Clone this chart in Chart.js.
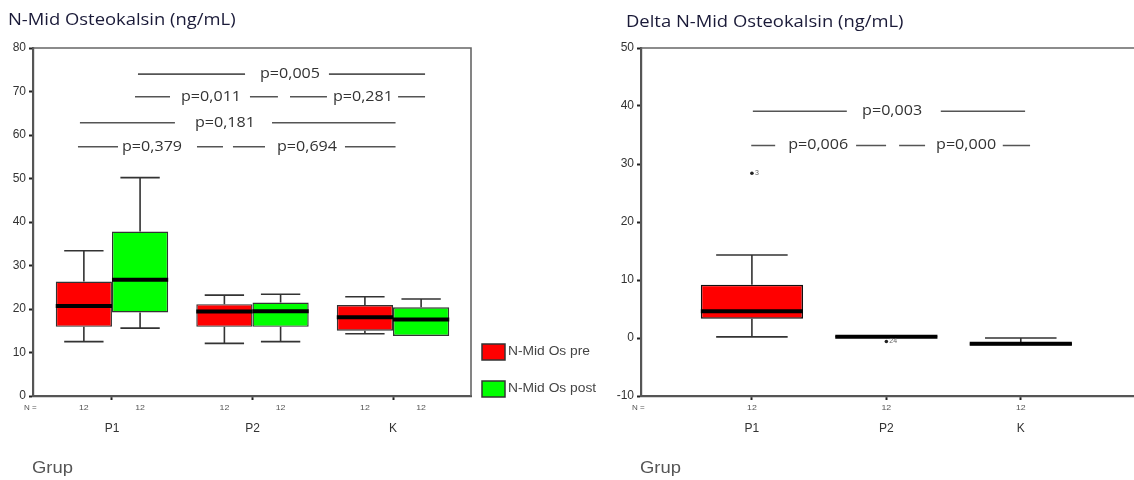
<!DOCTYPE html>
<html><head><meta charset="utf-8">
<script src="https://cdn.jsdelivr.net/npm/chart.js@4.4.0/dist/chart.umd.min.js"></script>
<style>
html,body{margin:0;padding:0;background:#fff;overflow:hidden;width:1134px;height:480px;}
#c1{position:absolute;left:0;top:0;}
#c2{position:absolute;left:600px;top:0;}
</style></head><body>
<canvas id="c1" width="620" height="480"></canvas>
<canvas id="c2" width="545" height="480"></canvas>
<script>
// ---------- data ----------
const groups = ['P1', 'P2', 'K'];
const nPerBox = [12, 12, 12];
const leftTitle = 'N-Mid Osteokalsin (ng/mL)';
const rightTitle = 'Delta N-Mid Osteokalsin (ng/mL)';
const xTitle = 'Grup';
const preLabel = 'N-Mid Os pre';
const postLabel = 'N-Mid Os post';

const preMin = [12.5, 12.1, 14.3];
const preQ1  = [15.9, 15.9, 15.0];
const preMed = [20.7, 19.4, 18.1];
const preQ3  = [26.3, 21.1, 20.9];
const preMax = [33.4, 23.2, 22.8];

const postMin = [15.6, 12.5, 13.8];
const postQ1  = [19.2, 15.9, 13.8];
const postMed = [26.7, 19.5, 17.6];
const postQ3  = [37.8, 21.5, 20.4];
const postMax = [50.2, 23.4, 22.3];

const deltaMin = [0.2, 0.1, -1.3];
const deltaQ1  = [3.3, 0.1, -1.3];
const deltaMed = [4.6, 0.2, -1.0];
const deltaQ3  = [9.2, 0.4, -0.8];
const deltaMax = [14.3, 0.4, 0.0];
const deltaOutlierGroup = [0, 1];
const deltaOutlierValue = [28.4, -0.6];
const deltaOutlierCase  = ['3', '24'];

const leftYTicks = [0, 80, 10];     // min, max, step
const rightYTicks = [-10, 50, 10];

// p-value annotations (y in data units, x in group units)
const leftPText = ['p=0,005', 'p=0,011', 'p=0,281', 'p=0,181', 'p=0,379', 'p=0,694'];
const leftPY    = [74.0, 68.8, 68.8, 62.8, 57.3, 57.3];
const leftPLayout = [
  {segs: [[1.185, 1.947], [2.544, 3.228]], tx: 2.267},
  {segs: [[1.164, 1.413], [1.982, 2.181]], tx: 1.705},
  {segs: [[2.267, 2.530], [3.036, 3.228]], tx: 2.786},
  {segs: [[0.772, 1.448], [2.139, 3.018]], tx: 1.804},
  {segs: [[0.758, 1.043], [1.605, 1.790]], tx: 1.285},
  {segs: [[1.861, 2.089], [2.658, 3.018]], tx: 2.388}
];
const rightPText = ['p=0,003', 'p=0,006', 'p=0,000'];
const rightPY    = [39.1, 33.2, 33.2];
const rightPLayout = [
  {segs: [[1.007, 1.706], [2.405, 3.032]], tx: 2.043},
  {segs: [[0.995, 1.173], [1.775, 1.998]], tx: 1.493},
  {segs: [[2.095, 2.288], [2.866, 3.069]], tx: 2.593}
];

// ---------- helpers ----------
const SX = 1.15; // horizontal stretch of the reference text
function stretchText(ctx, text, x, y, font, color, align, sx) {
  ctx.save();
  ctx.font = font; ctx.fillStyle = color;
  ctx.textAlign = align || 'left'; ctx.textBaseline = 'middle';
  ctx.translate(x, y); ctx.scale(sx || SX, 1);
  ctx.fillText(text, 0, 0);
  ctx.restore();
}
function mkStats(mn, q1, md, q3, mx) {
  return mn.map((v, i) => ({min: v, q1: q1[i], med: md[i], q3: q3[i], max: mx[i]}));
}
function boxData(q1, q3) {
  return q1.map((v, i) => ({x: i + 1, y: [v, q3[i]]}));
}

const boxPlugin = {
  id: 'boxWhisk',
  afterDatasetsDraw(chart) {
    const ctx = chart.ctx, ys = chart.scales.y;
    chart.data.datasets.forEach((ds, di) => {
      if (!ds.stats) return;
      const meta = chart.getDatasetMeta(di);
      meta.data.forEach((bar, i) => {
        const s = ds.stats[i];
        const x = bar.x, w = bar.width, cap = w * 0.7;
        const yq1 = ys.getPixelForValue(s.q1), yq3 = ys.getPixelForValue(s.q3);
        const ymin = ys.getPixelForValue(s.min), ymax = ys.getPixelForValue(s.max);
        ctx.save();
        ctx.strokeStyle = '#333'; ctx.lineWidth = 1.6;
        ctx.beginPath();
        if (s.max > s.q3) {
          ctx.moveTo(x, yq3); ctx.lineTo(x, ymax);
          ctx.moveTo(x - cap / 2, ymax); ctx.lineTo(x + cap / 2, ymax);
        }
        if (s.min < s.q1) {
          ctx.moveTo(x, yq1); ctx.lineTo(x, ymin);
          ctx.moveTo(x - cap / 2, ymin); ctx.lineTo(x + cap / 2, ymin);
        }
        ctx.stroke();
        ctx.strokeStyle = '#000'; ctx.lineWidth = 4;
        const ym = ys.getPixelForValue(s.med);
        ctx.beginPath(); ctx.moveTo(x - w / 2, ym); ctx.lineTo(x + w / 2, ym); ctx.stroke();
        ctx.restore();
      });
    });
  }
};

function decorPlugin(cfg) {
  return {
    id: 'decor',
    afterDraw(chart) {
      const ctx = chart.ctx, a = chart.chartArea, xs = chart.scales.x, ys = chart.scales.y;
      // frame
      ctx.save();
      ctx.strokeStyle = '#666'; ctx.lineWidth = 1.6;
      ctx.beginPath();
      ctx.moveTo(a.left, a.top); ctx.lineTo(a.right, a.top);
      if (cfg.rightBorder) ctx.lineTo(a.right, a.bottom);
      ctx.stroke();
      ctx.restore();
      // titles
      stretchText(ctx, cfg.title, cfg.titleX, cfg.titleY, '500 16px "Open Sans"', '#1a1a38', 'left');
      stretchText(ctx, xTitle, a.left - 1, 469, '16px "Liberation Sans"', '#555', 'left');
      // N row
      stretchText(ctx, 'N =', a.left - 9, 408, '8px "Liberation Sans"', '#555', 'left', 1);
      chart.data.datasets.forEach((ds, di) => {
        chart.getDatasetMeta(di).data.forEach((bar, i) => {
          stretchText(ctx, String(nPerBox[i]), bar.x, 408, '8px "Liberation Sans"', '#555', 'center', 1.1);
        });
      });
      // p-value annotations
      ctx.save();
      ctx.strokeStyle = '#555'; ctx.lineWidth = 1.6;
      cfg.pLayout.forEach((p, k) => {
        const y = ys.getPixelForValue(cfg.pY[k]);
        ctx.beginPath();
        p.segs.forEach(sg => { ctx.moveTo(xs.getPixelForValue(sg[0]), y); ctx.lineTo(xs.getPixelForValue(sg[1]), y); });
        ctx.stroke();
        stretchText(ctx, cfg.pText[k], xs.getPixelForValue(p.tx), y, '500 14px "Open Sans"', '#333', 'center');
      });
      ctx.restore();
      // legend
      if (cfg.legend) {
        chart.data.datasets.forEach((ds, di) => {
          const lx = a.right + 11, ly = a.bottom - 52 + di * 37;
          ctx.save();
          ctx.fillStyle = ds.backgroundColor; ctx.strokeStyle = '#333'; ctx.lineWidth = 1.5;
          ctx.fillRect(lx, ly, 23, 16); ctx.strokeRect(lx, ly, 23, 16);
          ctx.restore();
          stretchText(ctx, ds.label, lx + 26, ly + 8, '12px "Liberation Sans"', '#444', 'left');
        });
      }
      // outliers
      if (cfg.outliers) {
        deltaOutlierGroup.forEach((g, k) => {
          const bar = chart.getDatasetMeta(0).data[g];
          const y = ys.getPixelForValue(deltaOutlierValue[k]);
          ctx.save();
          ctx.fillStyle = '#222';
          ctx.beginPath(); ctx.arc(bar.x, y, 1.8, 0, Math.PI * 2); ctx.fill();
          ctx.restore();
          stretchText(ctx, deltaOutlierCase[k], bar.x + 3, y, '7px "Liberation Sans"', '#666', 'left', 1);
        });
      }
    }
  };
}

function axisCfg(extra) {
  return Object.assign({
    grid: {display: true, drawOnChartArea: false, drawTicks: true, tickLength: 4, tickColor: '#222', tickWidth: 2, offset: false},
    border: {display: true, color: '#555', width: 2.2}
  }, extra);
}

function xAxis(min, max) {
  return axisCfg({
    type: 'linear', min: min, max: max, offset: false,
    afterBuildTicks(s) { s.ticks = groups.map((g, i) => ({value: i + 1})); },
    afterFit(s) { s.height = 84; },
    ticks: {
      autoSkip: false, maxRotation: 0, padding: 21,
      color: '#333', font: {family: 'Liberation Sans', size: 12},
      callback: (v, i) => groups[i]
    }
  });
}
function yAxis(t) {
  return axisCfg({
    min: t[0], max: t[1],
    afterFit(s) { s.width = 33; },
    ticks: {stepSize: t[2], padding: 3, color: '#333', font: {family: 'Liberation Sans', size: 12}}
  });
}

Chart.defaults.animation = false;

new Chart(document.getElementById('c1'), {
  type: 'bar',
  data: {
    datasets: [
      {label: preLabel, data: boxData(preQ1, preQ3), stats: mkStats(preMin, preQ1, preMed, preQ3, preMax),
       backgroundColor: '#ff0000', borderColor: '#333', borderWidth: 1.4, borderSkipped: false},
      {label: postLabel, data: boxData(postQ1, postQ3), stats: mkStats(postMin, postQ1, postMed, postQ3, postMax),
       backgroundColor: '#00ff00', borderColor: '#333', borderWidth: 1.4, borderSkipped: false}
    ]
  },
  options: {
    responsive: false,
    layout: {padding: {left: 0, top: 48, right: 149, bottom: 0}},
    categoryPercentage: 0.8, barPercentage: 1.0,
    plugins: {legend: {display: false}, tooltip: {enabled: false}},
    scales: {x: xAxis(0.438, 3.555), y: yAxis(leftYTicks)}
  },
  plugins: [boxPlugin, decorPlugin({title: leftTitle, titleX: 8, titleY: 20, rightBorder: true,
    pText: leftPText, pY: leftPY, pLayout: leftPLayout, legend: true})]
});

new Chart(document.getElementById('c2'), {
  type: 'bar',
  data: {
    datasets: [
      {label: 'Delta', data: boxData(deltaQ1, deltaQ3), stats: mkStats(deltaMin, deltaQ1, deltaMed, deltaQ3, deltaMax),
       backgroundColor: '#ff0000', borderColor: '#111', borderWidth: 1.5, borderSkipped: false}
    ]
  },
  options: {
    responsive: false,
    layout: {padding: {left: 8, top: 48, right: 9, bottom: 0}},
    categoryPercentage: 0.76, barPercentage: 1.0,
    plugins: {legend: {display: false}, tooltip: {enabled: false}},
    scales: {x: xAxis(0.175, 3.857), y: yAxis(rightYTicks)}
  },
  plugins: [boxPlugin, decorPlugin({title: rightTitle, titleX: 26, titleY: 22, rightBorder: false,
    pText: rightPText, pY: rightPY, pLayout: rightPLayout, legend: false, outliers: true})]
});
</script>
</body></html>
